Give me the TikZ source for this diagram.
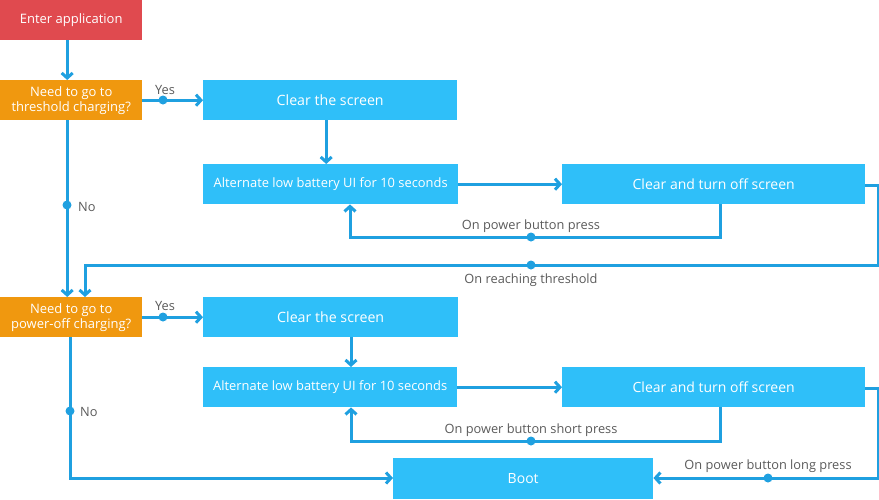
\documentclass[tikz,border=0pt]{standalone}
\usepackage{fontspec}
\setmainfont{Open Sans}
\usetikzlibrary{arrows.meta}
\definecolor{cred}{HTML}{E04A4F}
\definecolor{corange}{HTML}{F0980F}
\definecolor{cbox}{HTML}{2FBFF9}
\definecolor{cline}{HTML}{1FA0E0}
\definecolor{ctext}{HTML}{5A5A5A}
\tikzset{
  box/.style={anchor=north west, inner sep=0pt, text=white, font=\fontsize{13}{15}\selectfont, align=center},
  conn/.style={draw=cline, line width=3pt, -{Straight Barb[length=5pt,width=11pt,line width=3pt]}, line join=miter},
  dot/.style={circle, fill=cline, inner sep=0pt, minimum size=9pt},
  lbl/.style={text=ctext, font=\fontsize{12.8}{14}\selectfont, inner sep=0pt}
}
\begin{document}
\begin{tikzpicture}[x=1pt,y=-1pt]
\useasboundingbox (0,0) rectangle (879,499);
% boxes
\node[box, fill=cred, minimum width=142pt, minimum height=40pt] (enter) at (0,0) {Enter application};
\node[box, fill=corange, minimum width=142pt, minimum height=40pt] (d1) at (0,80) {Need to go to\\threshold charging?};
\node[box, fill=cbox, minimum width=254pt, minimum height=40pt, font=\fontsize{14.2}{16}\selectfont] (c1) at (203,80) {Clear the screen};
\node[box, fill=cbox, minimum width=255pt, minimum height=40pt, font=\fontsize{12.9}{14}\selectfont] (a1) at (203,164) {Alternate low battery UI for 10 seconds};
\node[box, fill=cbox, minimum width=303pt, minimum height=40pt, font=\fontsize{14}{16}\selectfont] (t1) at (562,164) {Clear and turn off screen};
\node[box, fill=corange, minimum width=142pt, minimum height=40pt] (d2) at (0,297) {Need to go to\\power-off charging?};
\node[box, fill=cbox, minimum width=255pt, minimum height=40pt, font=\fontsize{14.2}{16}\selectfont] (c2) at (203,297) {Clear the screen};
\node[box, fill=cbox, minimum width=254pt, minimum height=40pt, font=\fontsize{12.9}{14}\selectfont] (a2) at (203,367) {Alternate low battery UI for 10 seconds};
\node[box, fill=cbox, minimum width=303pt, minimum height=40pt, font=\fontsize{14}{16}\selectfont] (t2) at (562,367) {Clear and turn off screen};
\node[box, fill=cbox, minimum width=260pt, minimum height=41pt, font=\fontsize{14}{16}\selectfont] (boot) at (393,458) {Boot};
% coordinates
\coordinate (r1a) at (878,185);
\coordinate (r1b) at (878,265);
\coordinate (r1c) at (85,265);
\coordinate (p1a) at (720,237);
\coordinate (p1b) at (350,237);
\coordinate (p2a) at (720,441);
\coordinate (p2b) at (351,441);
\coordinate (n2a) at (70,478);
\coordinate (l2a) at (878,388);
\coordinate (l2b) at (878,478);
% connectors
\draw[conn] ([xshift=-4pt]enter.south) -- ([xshift=-4pt]d1.north);
\draw[conn] (d1.east) -- (c1.west);
\draw[conn] ([xshift=-4pt]d1.south) -- ([xshift=-4pt]d2.north);
\draw[conn] ([xshift=-4pt]c1.south) -- ([xshift=-4pt]c1.south |- a1.north);
\draw[conn] (a1.east) -- (a1.east -| t1.west);
\draw[conn] (t1.south -| p1a) -- (p1a) -- (p1b) -- (p1b |- a1.south);
\draw[conn] (t1.east |- r1a) -- (r1a) -- (r1b) -- (r1c) -- (r1c |- d2.north);
\draw[conn] (d2.east) -- (d2.east -| c2.west);
\draw[conn] (c2.south -| p2b) -- (p2b |- a2.north);
\draw[conn] (a2.east) -- (a2.east -| t2.west);
\draw[conn] (t2.south -| p2a) -- (p2a) -- (p2b) -- (p2b |- a2.south);
\draw[conn] (d2.south -| n2a) -- (n2a) -- (n2a -| boot.west);
\draw[conn] (t2.east |- l2a) -- (l2a) -- (l2b) -- (l2b -| boot.east);
% dots
\node[dot] (dy1) at (163,100) {};
\node[dot] (dn1) at (67,205) {};
\node[dot] (dp1) at (531,237) {};
\node[dot] (dr1) at (531,265) {};
\node[dot] (dy2) at (163,317) {};
\node[dot] (dn2) at (70,411) {};
\node[dot] (dp2) at (531,441) {};
\node[dot] (dl2) at (768,478) {};
% labels
\node[lbl] (ly1) at (165,90) {Yes};
\node[lbl, anchor=west] (ln1) at (78,207) {No};
\node[lbl] (lp1) at (531,226) {On power button press};
\node[lbl] (lr1) at (531,280) {On reaching threshold};
\node[lbl] (ly2) at (165,306) {Yes};
\node[lbl, anchor=west] (ln2) at (80,412) {No};
\node[lbl] (lp2) at (531,430) {On power button short press};
\node[lbl] (ll2) at (768,466) {On power button long press};
\end{tikzpicture}
\end{document}
